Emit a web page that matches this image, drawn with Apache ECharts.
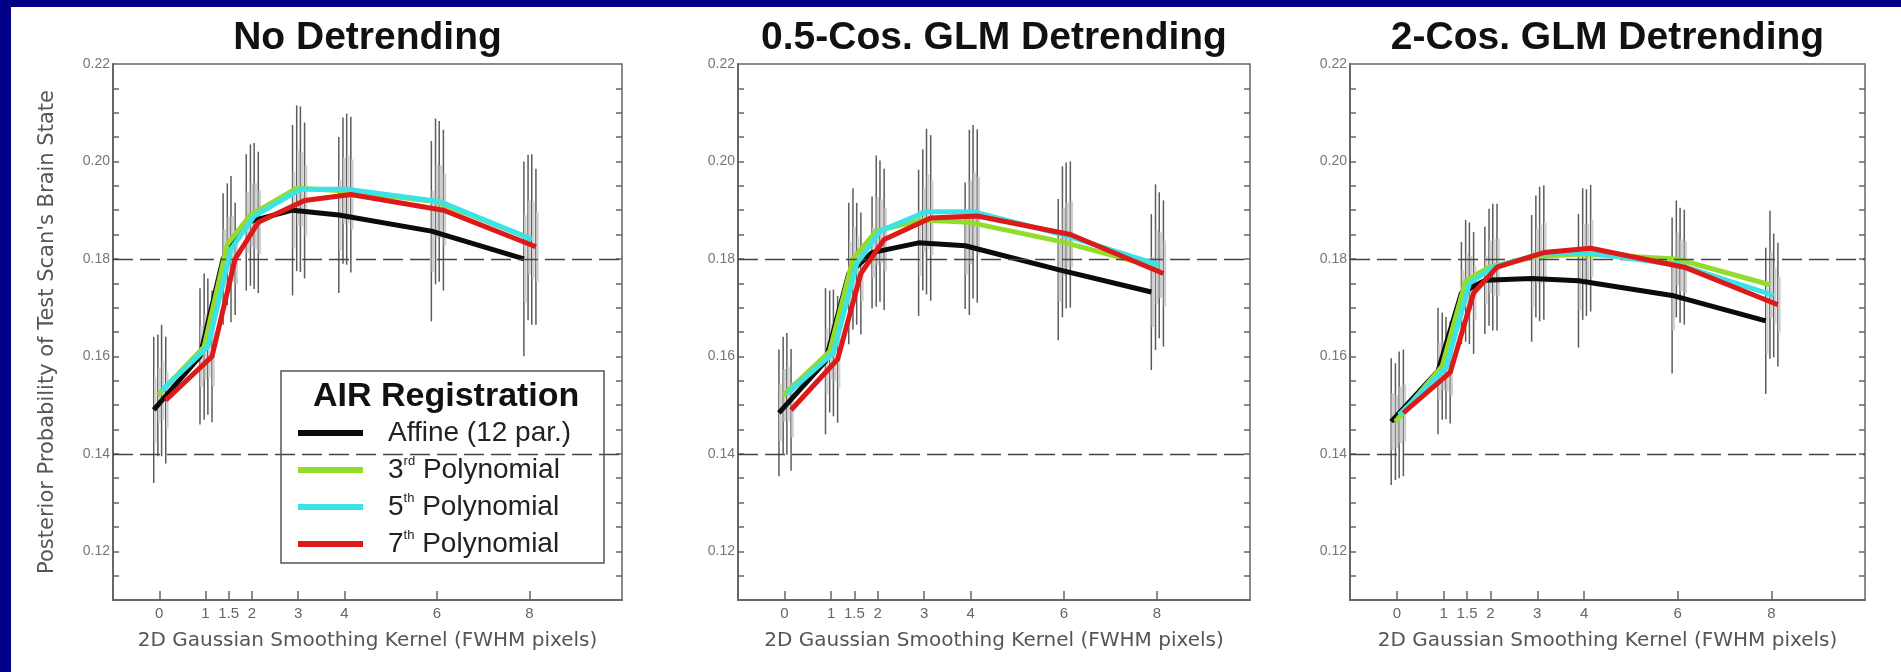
<!DOCTYPE html>
<html>
<head>
<meta charset="utf-8">
<title>AIR Registration - Posterior Probability</title>
<script src="https://cdn.jsdelivr.net/npm/echarts@6/dist/echarts.min.js"></script>
<style>
html, body { margin: 0; padding: 0; background: #fff; }
#chart { width: 1901px; height: 672px; }
</style>
</head>
<body>
<div id="chart"></div>
<script>
// smoothing kernels (FWHM pixels) and axis labels
const xVals = [0, 1, 1.5, 2, 3, 4, 6, 8]
const yTickLabels = [0.12, 0.14, 0.16, 0.18, 0.20, 0.22]
const refLines = [0.14, 0.18]
const seriesNames = ['Affine (12 par.)', '3rd Polynomial', '5th Polynomial', '7th Polynomial']
const panelTitles = ['No Detrending', '0.5-Cos. GLM Detrending', '2-Cos. GLM Detrending']

// No Detrending
const noDetAffine = [0.149, 0.160, 0.180, 0.1875, 0.190, 0.189, 0.1857, 0.180]
const noDetPoly3 = [0.152, 0.162, 0.183, 0.189, 0.1945, 0.194, 0.1918, 0.1844]
const noDetPoly5 = [0.153, 0.162, 0.182, 0.1888, 0.1943, 0.1943, 0.1918, 0.184]
const noDetPoly7 = [0.151, 0.160, 0.180, 0.1875, 0.192, 0.1932, 0.190, 0.1825]
const noDetAffineErr = [0.015, 0.014, 0.0135, 0.014, 0.0175, 0.016, 0.0185, 0.020]
const noDetPoly3Err = [0.0125, 0.015, 0.0125, 0.0145, 0.017, 0.015, 0.017, 0.017]
const noDetPoly5Err = [0.0135, 0.014, 0.015, 0.015, 0.017, 0.0155, 0.0165, 0.0175]
const noDetPoly7Err = [0.013, 0.0135, 0.0115, 0.0145, 0.016, 0.016, 0.0165, 0.016]

// 0.5-Cos. GLM Detrending
const cos05Affine = [0.1484, 0.159, 0.177, 0.1813, 0.1833, 0.1827, 0.1778, 0.1732]
const cos05Poly3 = [0.152, 0.161, 0.180, 0.1857, 0.188, 0.1875, 0.1835, 0.1783]
const cos05Poly5 = [0.1523, 0.1607, 0.179, 0.1857, 0.1897, 0.1897, 0.1848, 0.1787]
const cos05Poly7 = [0.149, 0.1594, 0.177, 0.184, 0.1884, 0.1888, 0.185, 0.177]
const cos05AffineErr = [0.013, 0.015, 0.0145, 0.0115, 0.015, 0.013, 0.0145, 0.016]
const cos05Poly3Err = [0.012, 0.0125, 0.0145, 0.0155, 0.0145, 0.019, 0.0155, 0.017]
const cos05Poly5Err = [0.0125, 0.013, 0.0125, 0.0145, 0.017, 0.0178, 0.015, 0.015]
const cos05Poly7Err = [0.0125, 0.013, 0.0125, 0.0145, 0.017, 0.0178, 0.015, 0.015]

// 2-Cos. GLM Detrending
const cos2Affine = [0.1466, 0.157, 0.173, 0.1756, 0.176, 0.1755, 0.1725, 0.1673]
const cos2Poly3 = [0.1466, 0.158, 0.1755, 0.1783, 0.1805, 0.181, 0.180, 0.1747]
const cos2Poly5 = [0.148, 0.1576, 0.175, 0.1783, 0.181, 0.1813, 0.1787, 0.1725]
const cos2Poly7 = [0.1484, 0.1567, 0.173, 0.1783, 0.1813, 0.1822, 0.1783, 0.1706]
const cos2AffineErr = [0.013, 0.013, 0.0105, 0.011, 0.013, 0.0137, 0.016, 0.015]
const cos2Poly3Err = [0.012, 0.011, 0.0125, 0.012, 0.0125, 0.0135, 0.012, 0.0152]
const cos2Poly5Err = [0.013, 0.0105, 0.0125, 0.013, 0.0138, 0.013, 0.0118, 0.0127]
const cos2Poly7Err = [0.013, 0.0105, 0.0125, 0.013, 0.0138, 0.013, 0.0118, 0.0127]

const panelMeans = [
  [noDetAffine, noDetPoly3, noDetPoly5, noDetPoly7],
  [cos05Affine, cos05Poly3, cos05Poly5, cos05Poly7],
  [cos2Affine, cos2Poly3, cos2Poly5, cos2Poly7]
]
const panelErrs = [
  [noDetAffineErr, noDetPoly3Err, noDetPoly5Err, noDetPoly7Err],
  [cos05AffineErr, cos05Poly3Err, cos05Poly5Err, cos05Poly7Err],
  [cos2AffineErr, cos2Poly3Err, cos2Poly5Err, cos2Poly7Err]
]

const FONT = 'Liberation Sans'
const WIDE = 'DejaVu Sans'
const colors = ['#0b0b0b', '#93dc2c', '#3ce3e6', '#dc1a1a']
// small horizontal dodge so the error bars of each registration don't overlap
const dodge = [-0.12, -0.03, 0.05, 0.14]
const gridLefts = [113, 738, 1350]
const gridWidths = [509, 512, 515]

// minor ticks every 0.005
const yTicks = []
for (let k = 23; k <= 43; k++) yTicks.push(+(k * 0.005).toFixed(3))

function renderBar(params, api) {
  const x = api.value(0)
  const lo = api.value(1)
  const hi = api.value(2)
  const m = api.value(3)
  const a = api.coord([x, lo])
  const b = api.coord([x, hi])
  const c1 = api.coord([x, m - (m - lo) * 0.45])
  const c2 = api.coord([x, m + (hi - m) * 0.45])
  return {
    type: 'group',
    children: [
      { type: 'line', shape: { x1: a[0], y1: a[1], x2: b[0], y2: b[1] }, style: { stroke: '#5c5c5c', lineWidth: 1.5 } },
      { type: 'line', shape: { x1: c1[0] + 1.5, y1: c1[1], x2: c2[0] + 1.5, y2: c2[1] }, style: { stroke: '#cfcfcf', lineWidth: 2.5 } }
    ]
  }
}

const grids = []
const xAxes = []
const yAxes = []
const series = []
const titles = []

panelTitles.forEach((t, p) => {
  grids.push({
    left: gridLefts[p], top: 64, width: gridWidths[p], height: 536,
    show: true, borderColor: '#666', borderWidth: 1.5
  })
  titles.push({
    text: t,
    left: gridLefts[p] + gridWidths[p] / 2,
    top: 19,
    textAlign: 'center',
    padding: 0,
    textStyle: { fontFamily: FONT, fontSize: 39, fontWeight: 'bold', color: '#111' }
  })
  xAxes.push({
    gridIndex: p, type: 'value', min: -1, max: 10,
    name: '2D Gaussian Smoothing Kernel (FWHM pixels)',
    nameLocation: 'middle', nameGap: 31,
    nameTextStyle: { fontFamily: WIDE, fontSize: 20, color: '#555' },
    axisLine: { show: true, onZero: false, lineStyle: { color: '#666', width: 2 } },
    axisTick: { show: true, inside: true, length: 9, customValues: xVals, lineStyle: { color: '#666', width: 1.5 } },
    axisLabel: { customValues: xVals, margin: 6, fontFamily: FONT, fontSize: 15, color: '#666' },
    splitLine: { show: false }
  })
  yAxes.push({
    gridIndex: p, type: 'value', min: 0.11, max: 0.22, interval: 0.01,
    name: p === 0 ? "Posterior Probability of Test Scan's Brain State" : '',
    nameLocation: 'middle', nameGap: 55, nameRotate: 90,
    nameTextStyle: { fontFamily: WIDE, fontSize: 21, color: '#555' },
    axisLine: { show: true, onZero: false, lineStyle: { color: '#666', width: 2 } },
    axisTick: { show: true, inside: true, length: 6, customValues: yTicks, lineStyle: { color: '#666', width: 1.5 } },
    axisLabel: { customValues: yTickLabels, formatter: v => v.toFixed(2), margin: 3, fontFamily: FONT, fontSize: 14, color: '#777' },
    splitLine: { show: false }
  })
  yAxes.push({
    gridIndex: p, type: 'value', min: 0.11, max: 0.22, interval: 0.01, position: 'right',
    axisLine: { show: false, onZero: false },
    axisTick: { show: true, inside: true, length: 6, customValues: yTicks, lineStyle: { color: '#666', width: 1.5 } },
    axisLabel: { show: false },
    splitLine: { show: false }
  })

  // error bars
  const bars = []
  panelMeans[p].forEach((means, s) => {
    means.forEach((m, i) => {
      const e = panelErrs[p][s][i]
      bars.push([xVals[i] + dodge[s], m - e, m + e, m])
    })
  })
  series.push({
    type: 'custom', xAxisIndex: p, yAxisIndex: p * 2, z: 1, silent: true,
    renderItem: renderBar, data: bars
  })

  panelMeans[p].forEach((means, s) => {
    const line = {
      name: seriesNames[s], type: 'line', xAxisIndex: p, yAxisIndex: p * 2,
      z: 3 + s, color: colors[s], symbol: 'none', silent: true,
      lineStyle: { width: 5, color: colors[s] },
      data: means.map((m, i) => [xVals[i] + dodge[s], m])
    }
    if (s === 0) {
      line.markLine = {
        silent: true, symbol: ['none', 'none'], label: { show: false },
        lineStyle: { color: '#444', type: [20, 7], width: 1.3 },
        data: refLines.map(v => ({ yAxis: v }))
      }
    }
    series.push(line)
  })
})

const chart = echarts.init(document.getElementById('chart'))
chart.setOption({
  backgroundColor: '#fff',
  animation: false,
  title: titles,
  grid: grids,
  xAxis: xAxes,
  yAxis: yAxes,
  legend: {
    data: seriesNames,
    left: 298, top: 418, orient: 'vertical', padding: 0,
    itemGap: 7, itemWidth: 65, itemHeight: 6, icon: 'rect',
    selectedMode: false,
    formatter: n => n.replace(/^(\d)(rd|th) /, '$1{sup|$2} '),
    textStyle: {
      fontFamily: FONT, fontSize: 28, lineHeight: 30, color: '#222', padding: [0, 0, 0, 20],
      rich: { sup: { fontFamily: FONT, fontSize: 13, lineHeight: 14, verticalAlign: 'top', color: '#222' } }
    }
  },
  graphic: [
    { type: 'rect', left: 0, top: 0, shape: { width: 1901, height: 7 }, style: { fill: '#000088' }, z: 100 },
    { type: 'rect', left: 0, top: 0, shape: { width: 11, height: 672 }, style: { fill: '#000088' }, z: 100 },
    { type: 'rect', x: 281, y: 371, shape: { width: 323, height: 192 }, style: { fill: 'none', stroke: '#555', lineWidth: 1.5 }, z: 10 },
    { type: 'text', x: 313, y: 397, style: { text: 'AIR Registration', fontFamily: FONT, fontSize: 34, fontWeight: 'bold', fill: '#111', verticalAlign: 'middle' }, z: 10 }
  ],
  series: series
})
</script>
</body>
</html>
